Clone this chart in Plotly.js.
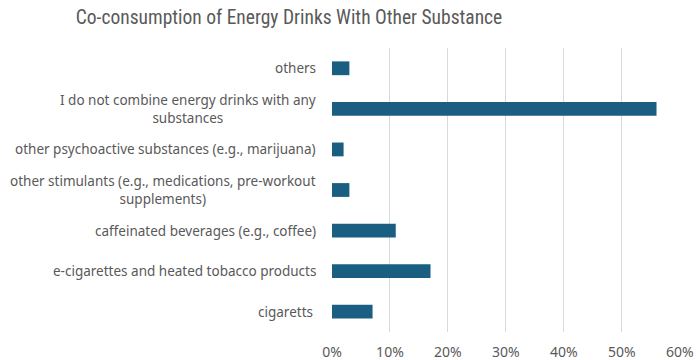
<!DOCTYPE html>
<html>
<head>
<meta charset="utf-8">
<script src="https://cdn.plot.ly/plotly-3.0.1.min.js"></script>
<style>html,body{margin:0;padding:0;background:#fff;}#chart{width:696px;height:360px;}</style>
</head>
<body>
<div id="chart"></div>
<script>
// Categories from bottom to top
const categories = [
  "cigaretts ",
  "e-cigarettes and heated tobacco products",
  "caffeinated beverages (e.g., coffee)",
  "other stimulants (e.g., medications, pre-workout<br>supplements)",
  "other psychoactive substances (e.g., marijuana)",
  "I do not combine energy drinks with any<br>substances",
  "others"
];
const values = [0.07, 0.17, 0.11, 0.03, 0.02, 0.56, 0.03];
const tickVals = [0, 0.1, 0.2, 0.3, 0.4, 0.5, 0.6];
const tickText = ["0%", "10%", "20%", "30%", "40%", "50%", "60%"];
const chartTitle = "Co-consumption of Energy Drinks With Other Substance";

const FONT = "Noto Sans, Open Sans, sans-serif";
const GREY = "#595959";

const trace = {
  type: "bar",
  orientation: "h",
  y: categories,
  x: values,
  width: 0.34,
  marker: {color: "#1a5f81"},
  hoverinfo: "x+y"
};

const annotations = categories.map(function (c) {
  return {
    xref: "paper", yref: "y",
    x: 0, y: c,
    xanchor: "right", yanchor: "middle",
    xshift: -14,
    text: c,
    align: "center",
    showarrow: false,
    font: {family: FONT, size: 13.5, color: GREY}
  };
});

const layout = {
  width: 696, height: 360,
  margin: {l: 332, r: 16, t: 47.5, b: 27.5},
  paper_bgcolor: "#ffffff",
  plot_bgcolor: "#ffffff",
  showlegend: false,
  title: {
    text: chartTitle,
    font: {family: "Liberation Sans Narrow, Roboto Condensed, Roboto, sans-serif", size: 19.5, color: GREY},
    x: 289 / 696, xanchor: "center", xref: "container",
    y: 1, yref: "container", yanchor: "top", pad: {t: 10}
  },
  xaxis: {
    range: [0, 0.6005],
    tickvals: tickVals,
    ticktext: tickText,
    showgrid: true,
    gridcolor: "#d9d9d9",
    gridwidth: 1,
    zeroline: false,
    showline: false,
    ticks: "",
    ticklabelstandoff: 10,
    tickfont: {family: FONT, size: 14, color: GREY},
    fixedrange: true
  },
  yaxis: {
    type: "category",
    categoryorder: "array",
    categoryarray: categories,
    showticklabels: false,
    showgrid: false,
    zeroline: false,
    showline: false,
    ticks: "",
    fixedrange: true
  },
  annotations: annotations,
  bargap: 0.66
};

Plotly.newPlot("chart", [trace], layout, {displayModeBar: false, staticPlot: true});
</script>
</body>
</html>
